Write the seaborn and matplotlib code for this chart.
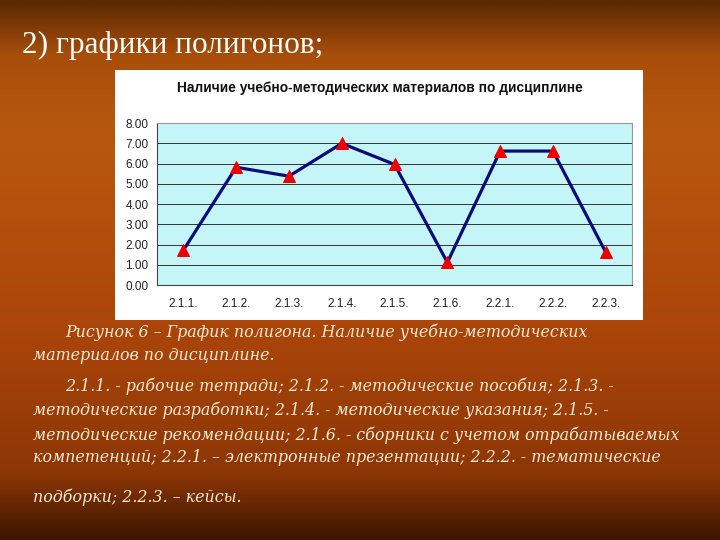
import numpy as np
import pandas as pd
import seaborn as sns
import matplotlib.pyplot as plt
from matplotlib.colors import LinearSegmentedColormap

# данные графика
categories = ['2.1.1.', '2.1.2.', '2.1.3.', '2.1.4.', '2.1.5.', '2.1.6.', '2.2.1.', '2.2.2.', '2.2.3.']
values = [1.72, 5.82, 5.38, 7.0, 5.96, 1.12, 6.62, 6.62, 1.62]
y_ticks = [0, 1, 2, 3, 4, 5, 6, 7, 8]

slide_title = '2) графики полигонов;'
chart_title = 'Наличие учебно-методических материалов по дисциплине'
caption_lines = [
    ('Рисунок 6 – График полигона. Наличие учебно-методических', 0.090, 332),
    ('материалов по дисциплине.', 0.046, 356),
    ('2.1.1. - рабочие тетради; 2.1.2. - методические пособия; 2.1.3. -', 0.090, 386),
    ('методические разработки; 2.1.4. - методические указания; 2.1.5. -', 0.046, 410),
    ('методические рекомендации; 2.1.6. - сборники с учетом отрабатываемых', 0.046, 435),
    ('компетенций; 2.2.1. – электронные презентации; 2.2.2. - тематические', 0.046, 458),
    ('подборки; 2.2.3. – кейсы.', 0.046, 497),
]

df = pd.DataFrame({'cat': categories, 'val': values})
df['pos'] = range(len(categories))

sns.set_style('white')
plt.rcParams['font.family'] = ['Liberation Sans', 'DejaVu Sans']

fig = plt.figure(figsize=(7.2, 5.4), dpi=100)

# фон слайда (градиент)
bg = fig.add_axes([0, 0, 1, 1], zorder=0)
cmap = LinearSegmentedColormap.from_list('bg', [
    (0.0, '#5a2802'), (0.10, '#a84e0a'), (0.25, '#b8580e'),
    (0.6, '#ac460a'), (0.88, '#8c3606'), (1.0, '#3c1602')])
grad = np.linspace(0, 1, 256).reshape(-1, 1)
bg.imshow(grad, aspect='auto', cmap=cmap, extent=[0, 1, 0, 1], origin='upper')
bg.set_xlim(0, 1)
bg.set_ylim(0, 1)
bg.axis('off')

# белая рамка диаграммы
box = fig.add_axes([0.160, 0.407, 0.733, 0.463], zorder=1)
box.set_facecolor('white')
box.set_xticks([])
box.set_yticks([])
for s in box.spines.values():
    s.set_visible(False)

ax = fig.add_axes([0.218, 0.472, 0.660, 0.300], zorder=2)
ax.set_facecolor('#c4f6f8')
sns.lineplot(data=df, x='pos', y='val', ax=ax, color='#0a0a78', linewidth=2.3,
             marker='^', markersize=9, markerfacecolor='#ee0000',
             markeredgecolor='#ee0000')
ax.set_xlim(-0.5, len(categories) - 0.5)
ax.set_ylim(0, 8)
ax.set_yticks(y_ticks)
ax.set_yticklabels([f'{v:.2f}' for v in y_ticks], fontsize=8.5, color='#222222')
ax.set_xticks(df['pos'])
ax.set_xticklabels(categories, fontsize=8.5, color='#222222')
ax.set_xticks(np.arange(-0.5, len(categories), 1), minor=True)
ax.tick_params(axis='x', which='major', length=0, pad=9)
ax.tick_params(axis='x', which='minor', length=3, color='#555555', direction='out')
ax.tick_params(axis='y', length=3, color='#555555', direction='out', pad=3)
ax.yaxis.grid(True, color='#333333', linewidth=0.7)
ax.set_axisbelow(True)
ax.set_xlabel('')
ax.set_ylabel('')
for side in ['top', 'right']:
    ax.spines[side].set_color('#999999')
    ax.spines[side].set_linewidth(0.8)
for side in ['left', 'bottom']:
    ax.spines[side].set_color('#444444')
    ax.spines[side].set_linewidth(0.8)

fig.text(0.527, 1 - 88 / 540, chart_title, ha='center', va='center',
         fontsize=9.9, fontweight='bold', color='#111111', zorder=3)

fig.text(0.030, 1 - 45 / 540, slide_title, ha='left', va='center',
         fontsize=22.5, color='white', family=['Liberation Serif', 'DejaVu Serif'])

for txt, x, y in caption_lines:
    fig.text(x, 1 - y / 540, txt, ha='left', va='center', fontsize=11.4,
             style='italic', color='#f6ead2',
             family=['DejaVu Serif', 'Liberation Serif'])

plt.savefig('out.png', dpi=100)
